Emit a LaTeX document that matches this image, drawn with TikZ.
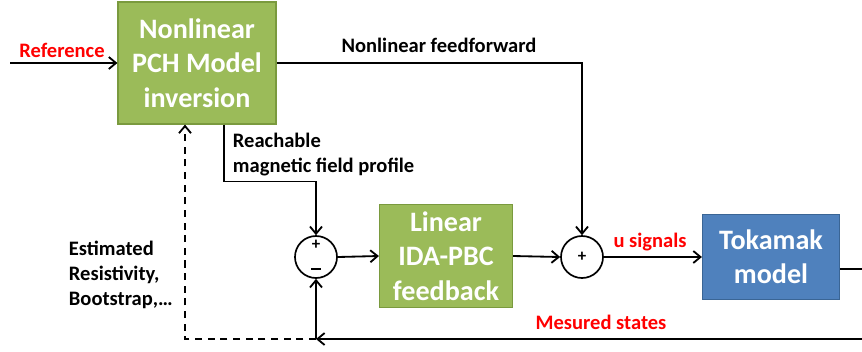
\documentclass[tikz,border=0pt]{standalone}
\usepackage{fontspec}
\setmainfont{Carlito}
\usetikzlibrary{arrows.meta}
\usetikzlibrary{positioning}
\definecolor{boxgreen}{HTML}{9BBB59}
\definecolor{boxgreenline}{HTML}{7A9A3E}
\definecolor{boxblue}{HTML}{4F81BD}
\definecolor{boxblueline}{HTML}{3A6595}
\tikzset{
    block/.style={
        draw=boxgreenline,
        fill=boxgreen,
        line width=0.8pt,
        text=white,
        align=center,
        font=\fontsize{20}{24.5}\selectfont\bfseries,
        inner sep=0pt
    },
    sumnode/.style={
        draw,
        circle,
        line width=1.2pt,
        minimum size=1.05cm,
        inner sep=0pt
    },
    sign/.style={font=\fontsize{12}{12}\selectfont\bfseries, inner sep=0pt},
    wire/.style={
        line width=1.3pt,
        -{Straight Barb[length=1.8mm, width=3mm]}
    },
    lbl/.style={font=\fontsize{14.6}{17.8}\selectfont\bfseries, align=left},
    redlbl/.style={lbl, text=red}
}

\begin{document}
\begin{tikzpicture}[x=0.025cm, y=-0.025cm]
    \useasboundingbox (0,0) rectangle (862,351);
    \clip (0,0) rectangle (862,351);
    % Blocks
    \node[block, minimum width=3.95cm, minimum height=3.05cm] (inv) at (197,63) {Nonlinear\\PCH Model\\inversion};
    \node[block, minimum width=3.325cm, minimum height=2.575cm] (ida) at (446,256) {Linear\\IDA-PBC\\feedback};
    \node[block, draw=boxblueline, fill=boxblue, minimum width=3.425cm, minimum height=2.125cm] (tok) at (771,257) {Tokamak\\model};

    % Summing junctions
    \node[sumnode] (s1) at (316,257) {};
    \node[sumnode] (s2) at (582,257) {};
    \node[sign] (p1) at (316,245) {+};
    \node[sign] (m1) at (316,271) {\rule[0.5ex]{0.55em}{1.4pt}};
    \node[sign] (p2) at (582,257) {+};

    % Free ends
    \coordinate (ref) at (10,63);
    \coordinate (fb) at (316,339);

    % Connectors
    \draw[wire] (ref) -- (inv.west);
    \draw[wire] (inv.east) -| (s2.north);
    \draw[wire] ([xshift=0.675cm]inv.south) -- ++(0,57) -| (s1.north);
    \draw[wire] (s1.east) -- (ida.west);
    \draw[wire] (ida.east) -- (s2.west);
    \draw[wire] (s2.east) -- (tok.west);
    \draw[wire] ([yshift=-0.3cm]tok.east) -- ++(40,0) |- (fb);
    \draw[wire] (fb) -- (s1.south);
    \draw[wire, dashed, dash pattern=on 5pt off 4pt] (fb) -| ([xshift=-0.3cm]inv.south);

    % Labels
    \node[redlbl] (lref) at (62,50) {Reference};
    \node[lbl] (lff) at (439,45) {Nonlinear feedforward};
    \node[lbl, anchor=west] (lreach) at (228,155) {Reachable\\magnetic field profile};
    \node[lbl, anchor=west] (lest) at (64,275) {Estimated\\Resistivity,\\Bootstrap,…};
    \node[redlbl] (lu) at (650,242) {u signals};
    \node[redlbl] (lmes) at (601,322) {Mesured states};
\end{tikzpicture}
\end{document}
